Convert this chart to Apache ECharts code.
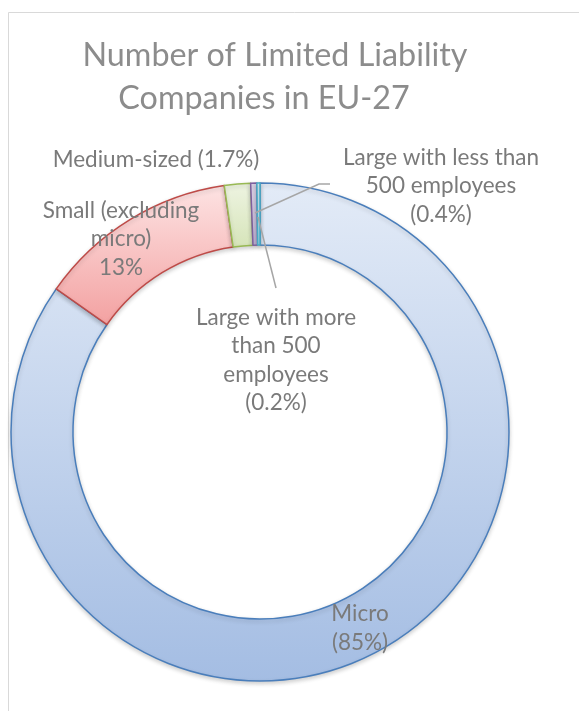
<!DOCTYPE html>
<html>
<head>
<meta charset="utf-8">
<script src="https://cdn.jsdelivr.net/npm/echarts@6/dist/echarts.min.js"></script>
<style>
html,body{margin:0;padding:0;background:#fff;}
#chart{width:579px;height:711px;}
</style>
</head>
<body>
<div id="chart"></div>
<script>
var categories = ['Micro', 'Small (excluding micro)', 'Medium-sized', 'Large with less than 500 employees', 'Large with more than 500 employees'];
var values = [85, 13, 1.7, 0.4, 0.2];
var labelTexts = ['Micro\n(85%)', 'Small (excluding\nmicro)\n13%', 'Medium-sized (1.7%)', 'Large with less than\n500 employees\n(0.4%)', 'Large with more\nthan 500\nemployees\n(0.2%)'];
var titleLines = ['Number of Limited Liability', 'Companies in EU-27'];

var borderColors = ['#4a7ebb', '#be4b48', '#98b954', '#7d60a0', '#46aac5'];
var gradTop = ['#e3ebf7', '#fde3e3', '#eef4e2', '#e2d9ec', '#d3ecf4'];
var gradBottom = ['#a4bde3', '#f3a1a1', '#d6e4b9', '#c5b6d9', '#a9dbe9'];

var labelPos = [
  {x: 360, y: 628},
  {x: 121, y: 239},
  {x: 156, y: 160},
  {x: 441, y: 186},
  {x: 276, y: 360}
];
var leaderLines = [
  [[255, 213], [319, 184], [330, 184]],
  [[258, 217], [276, 288]]
];

var FONT = 'Lato';
var chart = echarts.init(document.getElementById('chart'));

var data = categories.map(function (c, i) {
  return {
    name: c,
    value: values[i],
    itemStyle: {
      color: new echarts.graphic.LinearGradient(0, 0, 0, 1, [
        {offset: 0, color: gradTop[i]},
        {offset: 1, color: gradBottom[i]}
      ]),
      borderColor: borderColors[i]
    },
    label: {formatter: labelTexts[i]}
  };
});

var graphics = [{
  type: 'rect',
  shape: {x: 8.5, y: 12.5, width: 700, height: 800},
  style: {fill: 'none', stroke: '#d9d9d9', lineWidth: 1},
  silent: true,
  z: -1
}];
leaderLines.forEach(function (pts) {
  graphics.push({
    type: 'polyline',
    shape: {points: pts},
    style: {fill: 'none', stroke: '#a6a6a6', lineWidth: 1.5},
    silent: true,
    z: 100
  });
});

var titleStyle = {
  fontFamily: FONT,
  fontSize: 32.3,
  fontWeight: 'normal',
  color: '#8c8c8c'
};

chart.setOption({
  backgroundColor: '#ffffff',
  animation: false,
  title: [{
    text: titleLines[0],
    left: 270,
    top: 35,
    textAlign: 'center',
    textStyle: titleStyle
  }, {
    text: titleLines[1],
    left: 259,
    top: 78,
    textAlign: 'center',
    textStyle: titleStyle
  }],
  graphic: graphics,
  series: [{
    type: 'pie',
    center: [260, 432],
    radius: [187, 249],
    startAngle: 90,
    clockwise: true,
    avoidLabelOverlap: false,
    itemStyle: {
      borderWidth: 1.5,
      shadowBlur: 4,
      shadowOffsetY: 2,
      shadowColor: 'rgba(0,0,0,0.18)'
    },
    label: {
      show: true,
      position: 'outside',
      fontFamily: FONT,
      fontSize: 22.5,
      color: '#7a7a7a',
      lineHeight: 28.5,
      align: 'center'
    },
    labelLine: {show: false},
    labelLayout: function (params) {
      var p = labelPos[params.dataIndex];
      return {x: p.x, y: p.y, align: 'center', verticalAlign: 'middle'};
    },
    emphasis: {disabled: true},
    data: data
  }]
});
</script>
</body>
</html>
